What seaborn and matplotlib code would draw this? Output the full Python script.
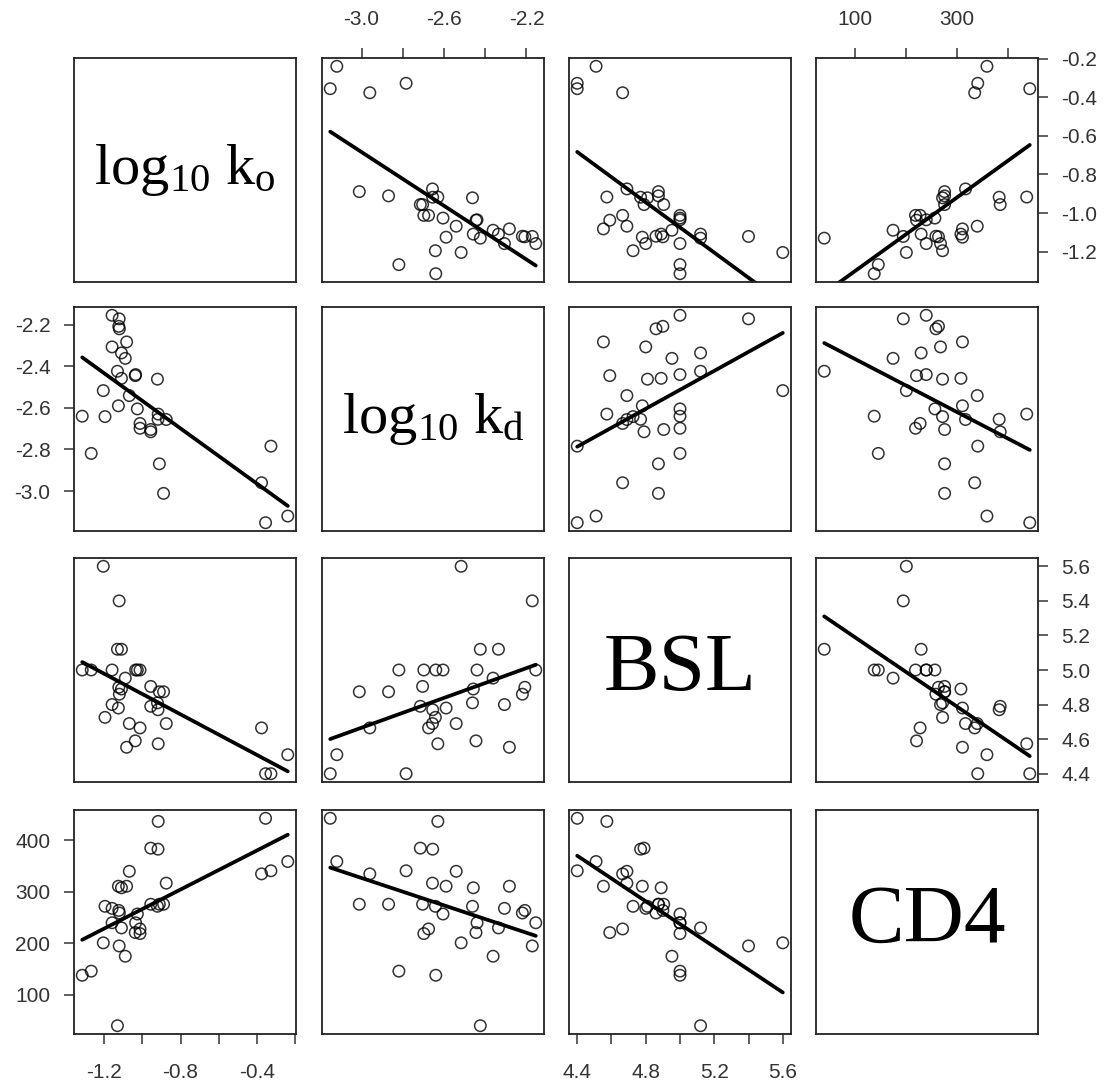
import matplotlib
matplotlib.use("Agg")
import numpy as np
import pandas as pd
import seaborn as sns
import matplotlib.pyplot as plt

# ---------------- data ----------------
log_ko = [-1.204, -1.121, -0.356, -0.328, -0.240, -0.377, -1.314, -1.267, -0.889, -0.911,
          -0.875, -0.956, -0.956, -0.918, -1.037, -0.917, -1.012, -1.026, -1.035, -1.012,
          -1.068, -1.089, -1.082, -1.195, -1.130, -1.109, -1.158, -1.123, -1.120, -1.158,
          -1.109, -1.125, -0.921]
log_kd = [-2.517, -2.172, -3.152, -2.784, -3.120, -2.960, -2.640, -2.819, -3.011, -2.869,
          -2.656, -2.704, -2.715, -2.655, -2.445, -2.630, -2.698, -2.605, -2.440, -2.675,
          -2.541, -2.362, -2.283, -2.642, -2.424, -2.336, -2.155, -2.208, -2.220, -2.307,
          -2.458, -2.590, -2.462]
bsl = [5.60, 5.40, 4.40, 4.40, 4.51, 4.665, 5.00, 5.00, 4.874, 4.874,
       4.69, 4.905, 4.79, 4.77, 4.59, 4.573, 5.00, 5.00, 5.00, 4.665,
       4.69, 4.953, 4.553, 4.726, 5.12, 5.12, 5.00, 4.90, 4.86, 4.80,
       4.89, 4.78, 4.81]
cd4 = [201, 195, 443, 341, 359, 335, 138, 146, 276, 276,
       317, 276, 385, 383, 221, 437, 219, 257, 240, 228,
       340, 175, 311, 272, 40, 230, 240, 264, 259, 268,
       308, 311, 272]

var_names = ["ko", "kd", "BSL", "CD4"]
diag_labels = [r"$\mathrm{log}_{10}\ \mathrm{k}_{\mathrm{o}}$",
               r"$\mathrm{log}_{10}\ \mathrm{k}_{\mathrm{d}}$",
               "BSL", "CD4"]
diag_sizes = [42, 42, 60, 60]

ticks = {
    "ko": [-1.2, -1.0, -0.8, -0.6, -0.4, -0.2],
    "kd": [-3.0, -2.8, -2.6, -2.4, -2.2],
    "BSL": [4.4, 4.6, 4.8, 5.0, 5.2, 5.4, 5.6],
    "CD4": [100, 200, 300, 400],
}
# labels shown on the x (top/bottom) axes - R drops the overlapping ones
xtick_labels = {
    "ko": ["-1.2", "", "-0.8", "", "-0.4", ""],
    "kd": ["-3.0", "", "-2.6", "", "-2.2"],
    "BSL": ["4.4", "", "4.8", "", "5.2", "", "5.6"],
    "CD4": ["100", "", "300", ""],
}
ytick_labels = {
    "ko": ["-1.2", "-1.0", "-0.8", "-0.6", "-0.4", "-0.2"],
    "kd": ["-3.0", "-2.8", "-2.6", "-2.4", "-2.2"],
    "BSL": ["4.4", "4.6", "4.8", "5.0", "5.2", "5.4", "5.6"],
    "CD4": ["100", "200", "300", "400"],
}

assert len(log_ko) == len(log_kd) == len(bsl) == len(cd4)
df = pd.DataFrame({"ko": log_ko, "kd": log_kd, "BSL": bsl, "CD4": cd4})

# ---------------- style ----------------
sns.set_theme(style="white")
plt.rcParams["font.family"] = ["Liberation Sans", "DejaVu Sans"]
plt.rcParams["mathtext.fontset"] = "custom"
plt.rcParams["mathtext.rm"] = "Liberation Serif"
plt.rcParams["mathtext.it"] = "Liberation Serif:italic"
plt.rcParams["axes.unicode_minus"] = False

W, H = 1107, 1091
fig = plt.figure(figsize=(W / 100, H / 100), dpi=100)
fig.patch.set_facecolor("white")

col_left = [74, 322, 569, 816]
row_top = [58, 307, 558, 810]
pw, ph = 222, 224

limits = {}
for v in var_names:
    lo, hi = df[v].min(), df[v].max()
    pad = 0.04 * (hi - lo)
    limits[v] = (lo - pad, hi + pad)

tick_fs = 15
tick_col = "#333333"
for i, yv in enumerate(var_names):
    for j, xv in enumerate(var_names):
        ax = fig.add_axes([col_left[j] / W, 1 - (row_top[i] + ph) / H, pw / W, ph / H])
        ax.set_facecolor("white")
        if i == j:
            ax.text(0.5, 0.5, diag_labels[i], ha="center", va="center",
                    fontsize=diag_sizes[i], family="Liberation Serif",
                    transform=ax.transAxes, color="black")
        else:
            sns.regplot(data=df, x=xv, y=yv, ax=ax, ci=None, color="black",
                        scatter_kws=dict(s=68, facecolors="none", edgecolors="black",
                                         linewidths=1.1),
                        line_kws=dict(color="black", lw=2.7))
        ax.set_xlim(limits[xv])
        ax.set_ylim(limits[yv])
        ax.set_xlabel("")
        ax.set_ylabel("")
        for s in ax.spines.values():
            s.set_visible(True)
            s.set_color("#222222")
            s.set_linewidth(1.3)
        ax.set_xticks([])
        ax.set_yticks([])

        # x axes: bottom for cols 1 & 3 (last row), top for cols 2 & 4 (first row)
        if (i == 3 and j in (0, 2)) or (i == 0 and j in (1, 3)):
            ax.set_xticks(ticks[xv])
            ax.set_xticklabels(xtick_labels[xv])
            if i == 0:
                ax.tick_params(axis="x", bottom=False, labelbottom=False, top=True,
                               labeltop=True, direction="out", length=7, width=1.1,
                               pad=14, labelsize=tick_fs, colors=tick_col)
            else:
                ax.tick_params(axis="x", bottom=True, labelbottom=True, direction="out",
                               length=7, width=1.1, pad=14, labelsize=tick_fs,
                               colors=tick_col)
        # y axes: left for rows 2 & 4 (first col), right for rows 1 & 3 (last col)
        if (j == 0 and i in (1, 3)) or (j == 3 and i in (0, 2)):
            ax.set_yticks(ticks[yv])
            ax.set_yticklabels(ytick_labels[yv])
            if j == 3:
                ax.tick_params(axis="y", left=False, labelleft=False, right=True,
                               labelright=True, direction="out", length=7, width=1.1,
                               pad=10, labelsize=tick_fs, colors=tick_col)
            else:
                ax.tick_params(axis="y", left=True, labelleft=True, direction="out",
                               length=7, width=1.1, pad=10, labelsize=tick_fs,
                               colors=tick_col)

fig.savefig("out.png", dpi=100, facecolor="white")
